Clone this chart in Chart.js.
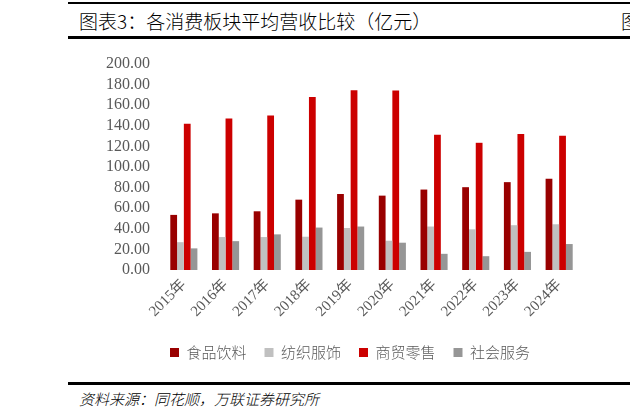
<!DOCTYPE html>
<html>
<head>
<meta charset="utf-8">
<script src="https://cdn.jsdelivr.net/npm/chart.js@4.4.1/dist/chart.umd.min.js"></script>
<style>
  html, body { margin: 0; padding: 0; background: #fff; width: 630px; height: 420px; overflow: hidden; }
  .rule { position: absolute; left: 68px; right: 0; background: #000; }
  #title { position: absolute; left: 79px; top: 7px; font: 300 19px "Noto Sans CJK SC", sans-serif; color: #000; white-space: nowrap; }
  #cut { position: absolute; left: 621px; top: 7px; font: 300 19px "Noto Sans CJK SC", sans-serif; color: #000; }
  #source { position: absolute; left: 79px; top: 388px; font: italic 300 15px "Noto Sans CJK SC", sans-serif; color: #000; white-space: nowrap; }
  #wrap { position: absolute; left: 0; top: 40px; width: 630px; height: 330px; }
</style>
</head>
<body>
<div class="rule" style="top:2px;height:2px"></div>
<div id="title">图表3：各消费板块平均营收比较（亿元）</div>
<div id="cut">图</div>
<div class="rule" style="top:36px;height:3px"></div>
<div id="wrap"><canvas id="chart"></canvas></div>
<div class="rule" style="top:382px;height:3px"></div>
<div id="source">资料来源：同花顺，万联证券研究所</div>
<script>
const years = ['2015年', '2016年', '2017年', '2018年', '2019年', '2020年', '2021年', '2022年', '2023年', '2024年'];
const food = [53.5, 55.0, 57.0, 68.3, 73.8, 72.2, 78.1, 80.4, 85.3, 88.6];
const textile = [27.0, 32.0, 32.0, 32.3, 40.8, 28.4, 42.2, 39.5, 43.5, 44.4];
const retail = [142.0, 147.0, 150.0, 168.0, 174.5, 174.2, 131.4, 123.5, 132.0, 130.4];
const service = [21.0, 28.0, 34.6, 41.2, 42.2, 26.5, 15.7, 13.4, 17.6, 25.2];
const seriesNames = ['食品饮料', '纺织服饰', '商贸零售', '社会服务'];
const seriesColors = ['#990000', '#C0C0C0', '#CC0000', '#969696'];
const yTicks = [0, 20, 40, 60, 80, 100, 120, 140, 160, 180, 200];

const seriesData = [food, textile, retail, service];
const serif = '"Liberation Serif", "Times New Roman", "Noto Sans CJK SC", serif';

// nudge the legend to the right, the original centres it a little off the canvas middle
const legendShift = {
  id: 'legendShift',
  afterLayout(chart) {
    chart.legend.left += 10;
    chart.legend.right += 10;
  }
};

new Chart(document.getElementById('chart'), {
  type: 'bar',
  data: {
    labels: years,
    datasets: seriesData.map((d, i) => ({
      label: seriesNames[i],
      data: d,
      backgroundColor: seriesColors[i],
      borderWidth: 0,
      categoryPercentage: 0.65,
      barPercentage: 1.0
    }))
  },
  plugins: [legendShift],
  options: {
    responsive: true,
    maintainAspectRatio: false,
    animation: false,
    layout: { padding: { left: 100, right: 50, top: 24, bottom: 0 } },
    plugins: {
      legend: {
        position: 'bottom',
        labels: {
          boxWidth: 9,
          boxHeight: 9,
          padding: 18,
          color: '#595959',
          font: { family: '"Noto Sans CJK SC", sans-serif', size: 15, weight: 300 }
        }
      },
      tooltip: { enabled: false }
    },
    scales: {
      x: {
        grid: { display: false, drawTicks: false },
        border: { display: false },
        ticks: {
          minRotation: 45,
          maxRotation: 45,
          padding: 6,
          color: '#595959',
          font: { family: serif, size: 15 }
        },
        afterFit: (scale) => { scale.height = 57; }
      },
      y: {
        min: 0,
        max: 200,
        grid: { display: false, drawTicks: false },
        border: { display: false },
        afterBuildTicks: (scale) => { scale.ticks = yTicks.map(v => ({ value: v })); },
        afterFit: (scale) => { scale.width = 63; },
        ticks: {
          autoSkip: false,
          padding: 13,
          color: '#595959',
          font: { family: serif, size: 16 },
          callback: (v) => Number(v).toFixed(2)
        }
      }
    }
  }
});
</script>
</body>
</html>
